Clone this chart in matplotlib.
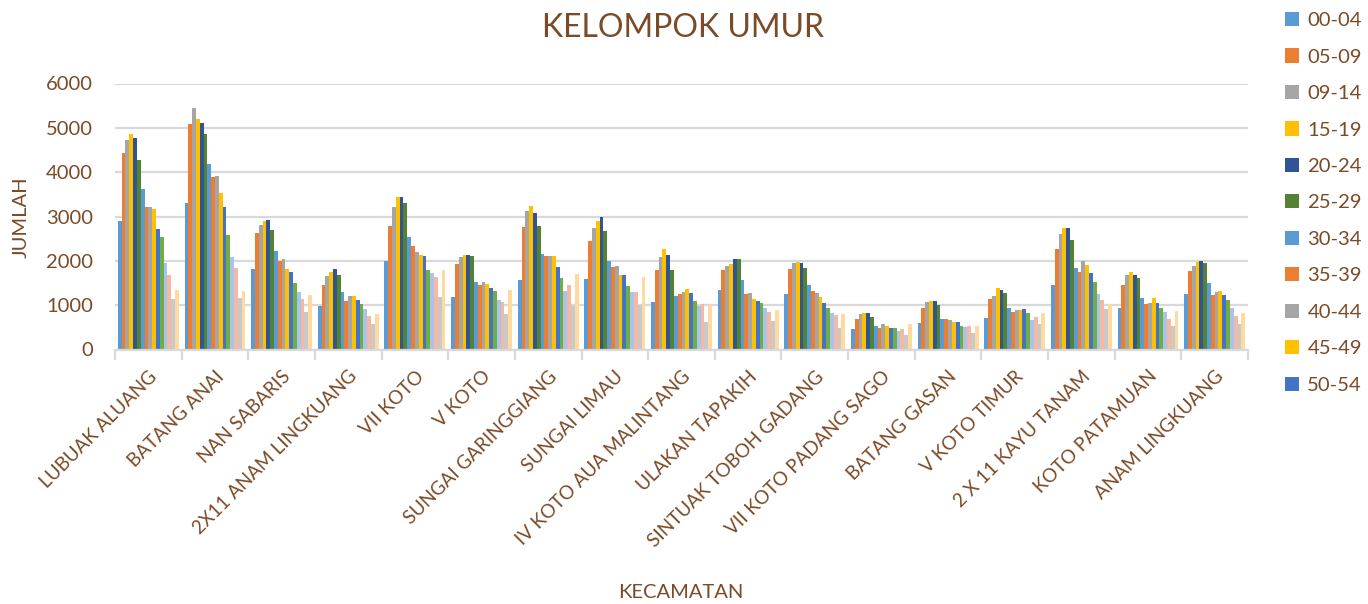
import numpy as np
import matplotlib
matplotlib.use('Agg')
import matplotlib.pyplot as plt

plt.rcParams['font.family'] = ['Lato', 'DejaVu Sans']

kecamatan = ['LUBUAK ALUANG', 'BATANG ANAI', 'NAN SABARIS', '2X11 ANAM LINGKUANG',
             'VII KOTO', 'V KOTO', 'SUNGAI GARINGGIANG', 'SUNGAI LIMAU',
             'IV KOTO AUA MALINTANG', 'ULAKAN TAPAKIH', 'SINTUAK TOBOH GADANG',
             'VII KOTO PADANG SAGO', 'BATANG GASAN', 'V KOTO TIMUR',
             '2 X 11 KAYU TANAM', 'KOTO PATAMUAN', 'ANAM LINGKUANG']

umur = ['00-04', '05-09', '09-14', '15-19', '20-24', '25-29', '30-34', '35-39',
        '40-44', '45-49', '50-54', '55-59', '60-64', '65-69', '70-74', '75+']

# one row per kecamatan, one column per age group
jumlah = np.array([
    [2890, 4440, 4730, 4870, 4770, 4270, 3630, 3225, 3210, 3170, 2710, 2540, 1950, 1670, 1130, 1335],
    [3310, 5090, 5450, 5205, 5115, 4870, 4195, 3885, 3915, 3540, 3225, 2575, 2085, 1830, 1155, 1310],
    [1815, 2620, 2815, 2890, 2910, 2695, 2230, 1990, 2050, 1810, 1755, 1510, 1300, 1150, 855, 1220],
    [990, 1455, 1650, 1740, 1825, 1690, 1305, 1100, 1215, 1215, 1120, 1035, 915, 760, 570, 795],
    [2005, 2790, 3225, 3450, 3450, 3295, 2530, 2325, 2190, 2140, 2100, 1785, 1720, 1630, 1180, 1800],
    [1195, 1935, 2095, 2140, 2140, 2100, 1530, 1455, 1530, 1485, 1390, 1330, 1110, 1080, 795, 1350],
    [1570, 2755, 3115, 3240, 3070, 2775, 2160, 2115, 2120, 2100, 1870, 1605, 1330, 1465, 990, 1710],
    [1585, 2440, 2730, 2890, 3000, 2665, 1990, 1855, 1875, 1690, 1675, 1440, 1290, 1300, 1005, 1630],
    [1065, 1785, 2085, 2260, 2140, 1785, 1210, 1245, 1290, 1360, 1285, 1100, 990, 1035, 615, 1005],
    [1335, 1795, 1875, 1930, 2035, 2035, 1560, 1260, 1275, 1140, 1095, 1060, 925, 840, 640, 880],
    [1255, 1825, 1960, 1980, 1950, 1840, 1465, 1320, 1285, 1180, 1060, 945, 820, 775, 495, 790],
    [460, 685, 790, 820, 820, 730, 540, 495, 570, 525, 490, 480, 420, 470, 325, 570],
    [595, 925, 1065, 1090, 1090, 1015, 685, 685, 670, 615, 615, 535, 505, 540, 375, 540],
    [720, 1150, 1210, 1395, 1335, 1285, 940, 855, 895, 895, 910, 825, 675, 730, 570, 825],
    [1455, 2275, 2595, 2730, 2730, 2470, 1845, 1755, 1995, 1915, 1735, 1515, 1245, 1120, 915, 1020],
    [930, 1450, 1675, 1740, 1675, 1620, 1155, 1035, 1060, 1155, 1045, 925, 835, 685, 540, 865],
    [1245, 1765, 1875, 1975, 1990, 1950, 1510, 1225, 1305, 1330, 1225, 1120, 925, 765, 585, 820],
])

colors = ['#5B9BD5', '#ED7D31', '#A5A5A5', '#FFC000', '#2F5597', '#548235',
          '#5B9BD5', '#ED7D31', '#A5A5A5', '#FFC000', '#4472C4', '#70AD47',
          '#A9C4EB', '#F4B9A3', '#C9C9C9', '#FFDA9E']

brown = '#7B4A26'
grid_c = '#D9D9D9'

fig = plt.figure(figsize=(13.68, 6.04), dpi=100)
ax = fig.add_axes([115 / 1368, 1 - 349.5 / 604, 1133 / 1368, 266 / 604])

n = len(umur)
w = 1 / (n + 1.5)
x = np.arange(len(kecamatan))
handles = []
for i, lab in enumerate(umur):
    b = ax.bar(x + (i - (n - 1) / 2) * w, jumlah[:, i], width=w, color=colors[i],
               label=lab, zorder=3, linewidth=0)
    handles.append(b)

ax.set_xlim(-0.5, len(kecamatan) - 0.5)
ax.set_ylim(0, 6000)
ax.set_yticks(np.arange(0, 6001, 1000))
ax.yaxis.grid(True, color=grid_c, linewidth=1.6, zorder=0)
ax.set_axisbelow(True)
for s in ['top', 'right', 'left']:
    ax.spines[s].set_visible(False)
ax.spines['bottom'].set_color(grid_c)
ax.spines['bottom'].set_linewidth(1.6)
ax.spines['bottom'].set_zorder(4)

ax.set_xticks(x)
ax.set_xticklabels(kecamatan, rotation=45, ha='right', rotation_mode='anchor',
                   fontsize=13.6, color=brown)
ax.set_xticks(np.arange(-0.5, len(kecamatan), 1), minor=True)
ax.tick_params(axis='x', which='major', length=0, pad=13)
ax.tick_params(axis='x', which='minor', length=7, width=1.6, color=grid_c)
ax.tick_params(axis='y', length=0, labelsize=14.5, labelcolor=brown, pad=16)

fig.text(683 / 1368, 1 - 28 / 604, 'KELOMPOK UMUR', ha='center', va='center',
         fontsize=23, color=brown)
fig.text(681 / 1368, 1 - 593 / 604, 'KECAMATAN', ha='center', va='center',
         fontsize=14.5, color=brown)
fig.text(21 / 1368, 1 - 217 / 604, 'JUMLAH', ha='center', va='center',
         rotation=90, fontsize=14.5, color=brown)

# the legend in the original is cut off after 50-54
fig.legend(handles[:11], umur[:11], loc='upper left',
           bbox_to_anchor=(1285 / 1368, 1 - 12 / 604), frameon=False,
           fontsize=14.6, labelcolor=brown, handlelength=0.7, handleheight=0.7,
           handletextpad=0.4, labelspacing=0.95, borderpad=0, borderaxespad=0)

fig.savefig('out.png', dpi=100)
